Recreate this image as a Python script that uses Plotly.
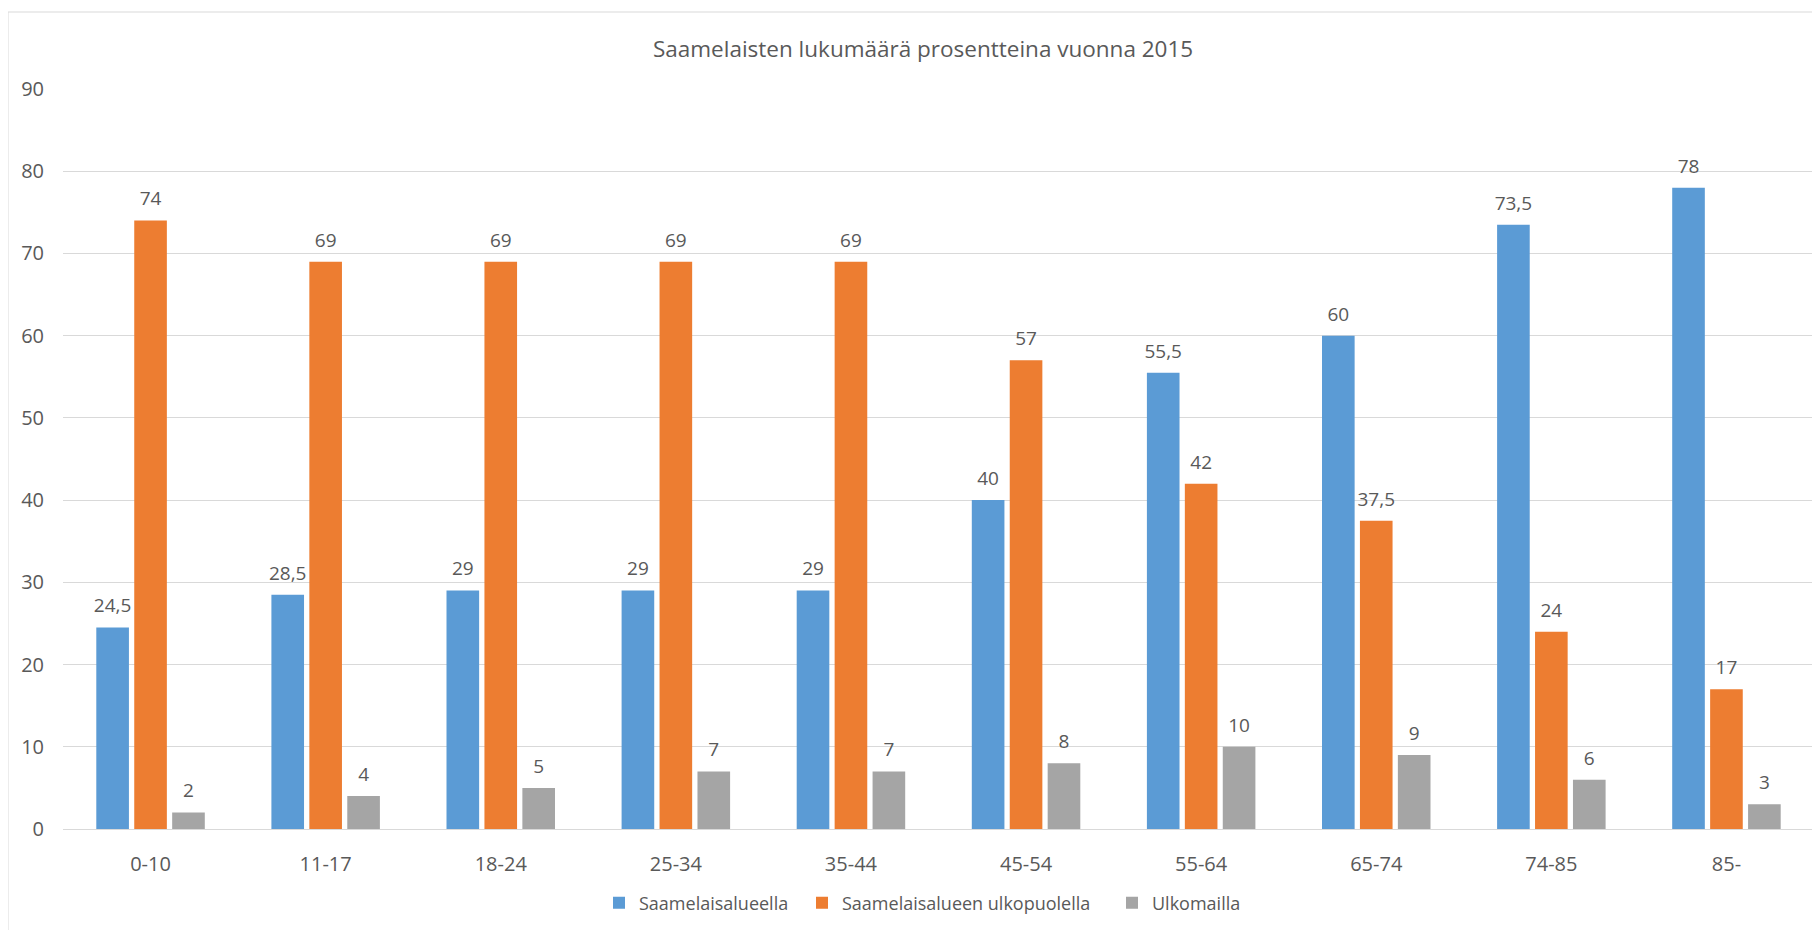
import plotly.graph_objects as go

categories = ["0-10", "11-17", "18-24", "25-34", "35-44", "45-54", "55-64", "65-74", "74-85", "85-"]
saamelaisalueella = [24.5, 28.5, 29, 29, 29, 40, 55.5, 60, 73.5, 78]
ulkopuolella = [74, 69, 69, 69, 69, 57, 42, 37.5, 24, 17]
ulkomailla = [2, 4, 5, 7, 7, 8, 10, 9, 6, 3]
series_names = ["Saamelaisalueella", "Saamelaisalueen ulkopuolella", "Ulkomailla"]
colors = ["#5B9BD5", "#ED7D31", "#A5A5A5"]
title_text = "Saamelaisten lukumäärä prosentteina vuonna 2015"

FONT = "Open Sans, sans-serif"
TXT = "#595959"
BARGAP = 0.35


def fmt(v):
    return ("%g" % v).replace(".", ",")


legend_ids = ["legend", "legend2", "legend3"]

fig = go.Figure()
all_series = [saamelaisalueella, ulkopuolella, ulkomailla]
for name, vals, col, lg in zip(series_names, all_series, colors, legend_ids):
    fig.add_trace(go.Bar(
        x=categories, y=vals, name=name, legend=lg,
        marker=dict(color=col, line=dict(width=0)),
        hoverinfo="x+y+name",
    ))
# data labels as grouped text traces (offset above bars like the original)
for name, vals in zip(series_names, all_series):
    fig.add_trace(go.Scatter(
        x=categories, y=vals, mode="markers+text",
        text=[fmt(v) for v in vals], textposition="top center",
        textfont=dict(family=FONT, size=19, color=TXT),
        marker=dict(size=15, opacity=0, color="white"),
        showlegend=False, hoverinfo="skip", cliponaxis=False,
    ))

W, H = 1812, 922
ML, MR, MT, MB = 55, 6, 81, 101
PW = W - ML - MR
PH = H - MT - MB

# legend entry left edges (pixels from the plot-area left edge)
legend_left_px = [536, 739, 1049]
leg_common = dict(orientation="h", xanchor="left", y=-74 / PH, yanchor="middle",
                  font=dict(family=FONT, size=18, color=TXT), itemwidth=30,
                  bgcolor="rgba(0,0,0,0)")

fig.update_layout(
    width=W, height=H,
    margin=dict(l=ML, r=MR, t=MT, b=MB),
    paper_bgcolor="white", plot_bgcolor="white",
    font=dict(family=FONT, size=20, color=TXT),
    barmode="group", bargap=BARGAP, bargroupgap=0.14,
    scattermode="group", scattergap=BARGAP,
    title=dict(text=title_text, x=0.505, xanchor="center", xref="container",
               y=1 - 41 / H, yanchor="middle", yref="container",
               font=dict(family=FONT, size=22.5, color=TXT)),
    showlegend=True,
    legend=dict(x=legend_left_px[0] / PW, **leg_common),
    legend2=dict(x=legend_left_px[1] / PW, **leg_common),
    legend3=dict(x=legend_left_px[2] / PW, **leg_common),
    xaxis=dict(showgrid=False, showline=True, linecolor="#D9D9D9", linewidth=1,
               ticks="", ticklabelstandoff=17, tickfont=dict(size=20, color=TXT)),
    yaxis=dict(range=[0, 90], dtick=10, showgrid=True, gridcolor="#D9D9D9", gridwidth=1,
               zeroline=False, showline=False, ticks="", ticklabelstandoff=18,
               tickfont=dict(size=20, color=TXT)),
    shapes=[dict(type="rect", xref="paper", yref="paper",
                 x0=-ML / PW, x1=1 + (MR + 20) / PW,
                 y0=-MB / PH - 0.01, y1=1 + (MT - 4) / PH,
                 line=dict(color="#D9D9D9", width=1), fillcolor="rgba(0,0,0,0)", layer="below")],
)

fig.write_html("out.html")
